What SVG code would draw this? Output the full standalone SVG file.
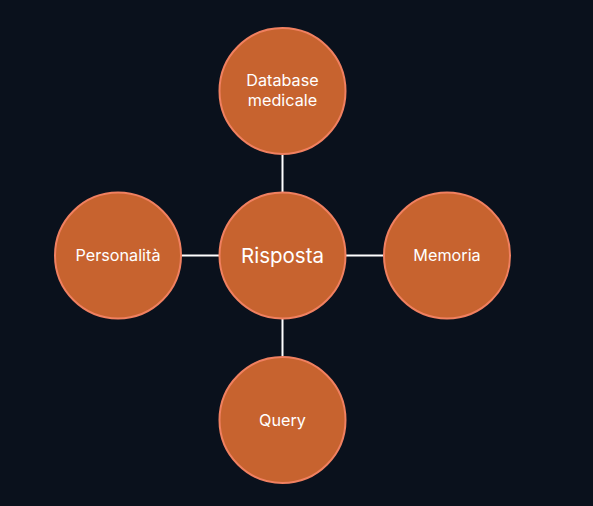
<svg xmlns="http://www.w3.org/2000/svg" width="593" height="506" viewBox="0 0 593 506">
<style>
.n{fill:#C7632F;stroke:#F08060;stroke-width:2}
.t{fill:#FFFFFF;font-family:Inter,"Liberation Sans",sans-serif;font-size:16.2px;text-anchor:middle}
.big{font-size:20.5px}
.c{stroke:#FFFFFF;stroke-width:2;fill:none}
</style>
<rect width="593" height="506" fill="#0A111C"/>
<g id="connectors">
<line class="c" x1="282.5" y1="155" x2="282.5" y2="192"/>
<line class="c" x1="282.5" y1="319" x2="282.5" y2="356"/>
<line class="c" x1="182" y1="255.5" x2="219" y2="255.5"/>
<line class="c" x1="346" y1="255.5" x2="384" y2="255.5"/>
</g>
<g id="risposta"><circle class="n" cx="282.5" cy="255.5" r="63"/><text class="t big" x="282.5" y="262.5">Risposta</text></g>
<g id="database"><circle class="n" cx="282.5" cy="91" r="63"/><text class="t" x="282.5" y="86">Database</text><text class="t" x="282.5" y="106">medicale</text></g>
<g id="personalita"><circle class="n" cx="118" cy="255.5" r="63"/><text class="t" x="118" y="261">Personalità</text></g>
<g id="memoria"><circle class="n" cx="447" cy="255.5" r="63"/><text class="t" x="447" y="261">Memoria</text></g>
<g id="query"><circle class="n" cx="282.5" cy="420" r="63"/><text class="t" x="282.5" y="425.5">Query</text></g>
</svg>
